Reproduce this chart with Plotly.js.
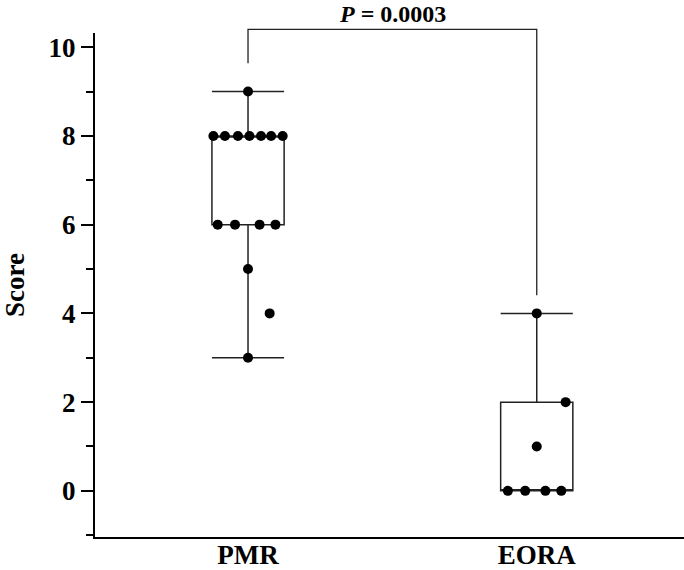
<!DOCTYPE html>
<html>
<head>
<meta charset="utf-8">
<script src="https://cdn.plot.ly/plotly-3.0.1.min.js"></script>
<style>
  body { margin: 0; background: #fff; }
  #chart { width: 684px; height: 570px; }
</style>
</head>
<body>
<div id="chart"></div>
<script>
// groups on the x axis
var groups = ["PMR", "EORA"];
var groupPos = [0, 1];

// individual scores
var pmrScores = [9, 8, 8, 8, 8, 8, 8, 8, 6, 6, 6, 6, 5, 4, 3];
var pmrOffsets = [0, -0.12, -0.08, -0.035, 0.005, 0.045, 0.08, 0.12, -0.105, -0.045, 0.04, 0.095, 0, 0.075, 0];
var eoraScores = [4, 2, 1, 0, 0, 0, 0];
var eoraOffsets = [0, 0.1, 0, -0.1, -0.04, 0.03, 0.085];

// box summaries (as drawn)
var q1 = [6, 0];
var medians = [8, 0];
var q3 = [8, 2];
var lowFence = [3, 0];
var upFence = [9, 4];

// significance bracket
var pText = "<b><i>P</i> = 0.0003</b>";
var bracketTop = 10.4;
var bracketEnds = [9.64, 4.41];

var font = "Liberation Serif, Times New Roman, serif";

var yRange = [-1.04, 10.32];

function shift(pos, offs) {
  return offs.map(function (o) { return pos + o; });
}

// y value -> paper fraction, so the bracket can go above the plot area without clipping
function py(v) {
  return (v - yRange[0]) / (yRange[1] - yRange[0]);
}

var boxes = {
  type: "box",
  x: groupPos,
  q1: q1,
  median: medians,
  q3: q3,
  lowerfence: lowFence,
  upperfence: upFence,
  boxpoints: false,
  width: 0.25,
  whiskerwidth: 1,
  fillcolor: "rgba(0,0,0,0)",
  line: { color: "#222", width: 1.5 },
  hoverinfo: "skip",
  showlegend: false
};

var dots = {
  type: "scatter",
  mode: "markers",
  x: shift(groupPos[0], pmrOffsets).concat(shift(groupPos[1], eoraOffsets)),
  y: pmrScores.concat(eoraScores),
  marker: { color: "#000", size: 10 },
  cliponaxis: false,
  showlegend: false
};

var bx = [groupPos[0], groupPos[0], groupPos[1], groupPos[1]];
var by = [bracketEnds[0], bracketTop, bracketTop, bracketEnds[1]].map(py);
var path = "M " + bx[0] + "," + by[0];
for (var i = 1; i < 4; i++) path += " L " + bx[i] + "," + by[i];

var layout = {
  width: 684,
  height: 570,
  margin: { l: 95, r: 0, t: 33, b: 33 },
  paper_bgcolor: "#fff",
  plot_bgcolor: "#fff",
  font: { family: font, color: "#000" },
  showlegend: false,
  xaxis: {
    range: [-0.53, 1.51],
    tickvals: groupPos,
    ticktext: groups,
    ticks: "",
    ticklabelstandoff: -7,
    showgrid: false,
    zeroline: false,
    showline: true,
    linecolor: "#000",
    linewidth: 2,
    tickfont: { size: 27, family: font, weight: "bold" }
  },
  yaxis: {
    range: yRange,
    tickvals: [0, 2, 4, 6, 8, 10],
    ticks: "outside",
    ticklen: 12,
    tickwidth: 2,
    tickcolor: "#000",
    minor: { tickvals: [-1, 1, 3, 5, 7, 9], ticks: "outside", ticklen: 7, tickwidth: 2, tickcolor: "#000" },
    showgrid: false,
    zeroline: false,
    showline: true,
    linecolor: "#000",
    linewidth: 2,
    tickfont: { size: 27, family: font, weight: "bold" },
    title: { text: "<b>Score</b>", font: { size: 27, family: font }, standoff: 18 }
  },
  shapes: [{
    type: "path",
    xref: "x",
    yref: "paper",
    path: path,
    line: { color: "#222", width: 1.3 }
  }],
  annotations: [{
    x: (groupPos[0] + groupPos[1]) / 2,
    y: py(bracketTop),
    xref: "x",
    yref: "paper",
    yanchor: "middle",
    yshift: 15,
    borderpad: 0,
    text: pText,
    showarrow: false,
    font: { size: 24, family: font, color: "#000" }
  }]
};

Plotly.newPlot("chart", [boxes, dots], layout, { displayModeBar: false });
</script>
</body>
</html>
